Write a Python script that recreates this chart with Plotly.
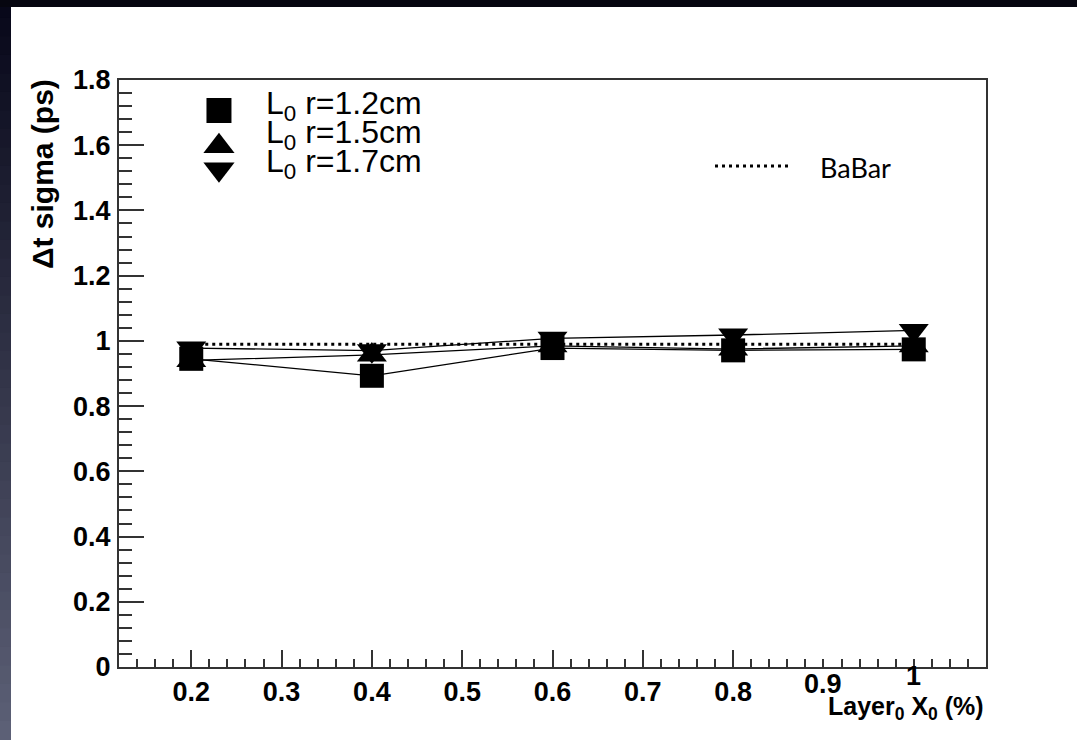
import plotly.graph_objects as go

# ---- data ----
x_vals = [0.2, 0.4, 0.6, 0.8, 1.0]
sig_r12 = [0.945, 0.893, 0.978, 0.971, 0.974]   # L0 r=1.2cm (squares)
sig_r15 = [0.940, 0.957, 0.985, 0.975, 0.985]   # L0 r=1.5cm (triangle up)
sig_r17 = [0.978, 0.970, 1.008, 1.018, 1.032]   # L0 r=1.7cm (triangle down)
babar_x = [0.2, 1.0]
babar_y = [0.99, 0.99]
series_names = ["L<sub>0</sub> r=1.2cm", "L<sub>0</sub> r=1.5cm", "L<sub>0</sub> r=1.7cm"]
series_symbols = ["square", "triangle-up", "triangle-down"]
x_tick_vals = [0.2, 0.3, 0.4, 0.5, 0.6, 0.7, 0.8]
x_tick_text = ["0.2", "0.3", "0.4", "0.5", "0.6", "0.7", "0.8"]
x_raised_vals = [0.9, 1.0]
x_raised_text = ["0.9", "1"]
x_title = "<b>Layer<sub>0</sub> X<sub>0</sub> (%)</b>"
y_title = "<b>\u0394t sigma (ps)</b>"

W, H = 1077, 740
L, R, T, B = 119, 91, 80, 73
PW, PH = W - L - R, H - T - B
AX = "#333333"
TICK_SIZE = 27

fig = go.Figure()

# BaBar reference (dotted)
fig.add_trace(go.Scatter(x=babar_x, y=babar_y, mode="lines",
                         line=dict(color="black", width=3, dash="3px,4px"),
                         showlegend=False, hoverinfo="skip"))

for ys, sym in zip([sig_r12, sig_r15, sig_r17], series_symbols):
    fig.add_trace(go.Scatter(x=x_vals, y=ys, mode="lines+markers",
                             line=dict(color="black", width=1.3),
                             marker=dict(symbol=sym, size=24 if sym == "square" else 26,
                                         color="black", line=dict(width=0)),
                             showlegend=False))

# legend markers on an overlay axis (fraction of plot area)
leg_x = [0.1153, 0.1153, 0.1153]
leg_y = [0.948, 0.887, 0.848]
for lx, ly, sym in zip(leg_x, leg_y, series_symbols):
    fig.add_trace(go.Scatter(x=[lx], y=[ly], mode="markers", xaxis="x2", yaxis="y2",
                             marker=dict(symbol=sym, size=25 if sym == "square" else 27,
                                         color="black", line=dict(width=0)),
                             showlegend=False, hoverinfo="skip"))

tickfont = dict(family="Liberation Sans, Arial", size=TICK_SIZE, color="black", weight="bold")

annotations = []
leg_text_y = [0.957, 0.907, 0.858]
for name, ty in zip(series_names, leg_text_y):
    annotations.append(dict(text=name, xref="paper", yref="paper",
                            x=(264 - L) / PW, y=ty, xanchor="left", yanchor="middle",
                            showarrow=False,
                            font=dict(family="Liberation Sans, Arial", size=32, color="black")))
annotations.append(dict(text="BaBar", xref="paper", yref="paper",
                        x=(818 - L) / PW, y=(667 - 167) / PH,
                        xanchor="left", yanchor="middle", showarrow=False,
                        font=dict(family="Lato", size=27, color="black")))
annotations.append(dict(text=y_title, xref="paper", yref="paper",
                        x=(42 - L) / PW, y=1.005, xanchor="center", yanchor="top",
                        textangle=-90, showarrow=False,
                        font=dict(family="Liberation Sans, Arial", size=30, color="black")))
annotations.append(dict(text=x_title, xref="paper", yref="paper",
                        x=1.0, y=-(690 - 667) / PH, xanchor="right", yanchor="top",
                        showarrow=False,
                        font=dict(family="Liberation Sans, Arial", size=25, color="black")))
# ROOT pushes the last labels up where the axis title sits
for v, t, yp in zip(x_raised_vals, x_raised_text, [684, 676]):
    annotations.append(dict(text="<b>%s</b>" % t, xref="x", yref="paper",
                            x=v, y=-(yp - 667) / PH, xanchor="center", yanchor="middle",
                            showarrow=False,
                            font=dict(family="Liberation Sans, Arial", size=TICK_SIZE,
                                      color="black")))

shapes = []
# left gradient strip (slide background)
n = 40
c0 = (8, 8, 26)
c1 = (92, 96, 118)
for i in range(n):
    f = i / (n - 1)
    col = "rgb(%d,%d,%d)" % tuple(int(c0[k] + (c1[k] - c0[k]) * f) for k in range(3))
    shapes.append(dict(type="rect", xref="paper", yref="paper",
                       x0=(0 - L) / PW, x1=(11 - L) / PW,
                       y0=(667 - (i + 1) * H / n) / PH - 0.001,
                       y1=(667 - i * H / n) / PH + 0.001,
                       line=dict(width=0), fillcolor=col, layer="below"))
# top dark strip
shapes.append(dict(type="rect", xref="paper", yref="paper",
                   x0=(0 - L) / PW, x1=(W - L) / PW,
                   y0=(667 - 7) / PH, y1=(667 - 0) / PH,
                   line=dict(width=0), fillcolor="rgb(6,6,16)", layer="below"))
# BaBar legend dotted sample
shapes.append(dict(type="line", xref="paper", yref="paper",
                   x0=(715 - L) / PW, x1=(791 - L) / PW,
                   y0=(667 - 166) / PH, y1=(667 - 166) / PH,
                   line=dict(color="black", width=3, dash="3px,4px")))

fig.update_layout(
    width=W, height=H,
    margin=dict(l=L, r=R, t=T, b=B, pad=0),
    paper_bgcolor="white", plot_bgcolor="white",
    showlegend=False,
    xaxis=dict(range=[0.12, 1.08], tick0=0, dtick=0.1, ticks="inside", ticklen=17,
               tickwidth=1.5, tickcolor=AX, showline=True, mirror=True, linecolor=AX,
               linewidth=2, showgrid=False, zeroline=False, tickfont=tickfont,
               tickmode="array", tickvals=x_tick_vals, ticktext=x_tick_text,
               ticklabelstandoff=0,
               minor=dict(tickmode="linear", tick0=0, dtick=0.02, ticks="inside", ticklen=8,
                          tickwidth=1.5, tickcolor=AX, showgrid=False)),
    yaxis=dict(range=[0, 1.8], tick0=0, dtick=0.2, ticks="inside", ticklen=25,
               tickwidth=1.5, tickcolor=AX, showline=True, mirror=True, linecolor=AX,
               linewidth=2, showgrid=False, zeroline=False, tickfont=tickfont,
               ticklabelstandoff=1,
               minor=dict(dtick=0.04, ticks="inside", ticklen=12.5, tickwidth=1.5,
                          tickcolor=AX, showgrid=False)),
    xaxis2=dict(range=[0, 1], overlaying="x", anchor="y2", visible=False,
                showgrid=False, zeroline=False),
    yaxis2=dict(range=[0, 1], overlaying="y", anchor="x2", visible=False,
                showgrid=False, zeroline=False),
    annotations=annotations,
    shapes=shapes,
)

fig.write_html("out.html")
